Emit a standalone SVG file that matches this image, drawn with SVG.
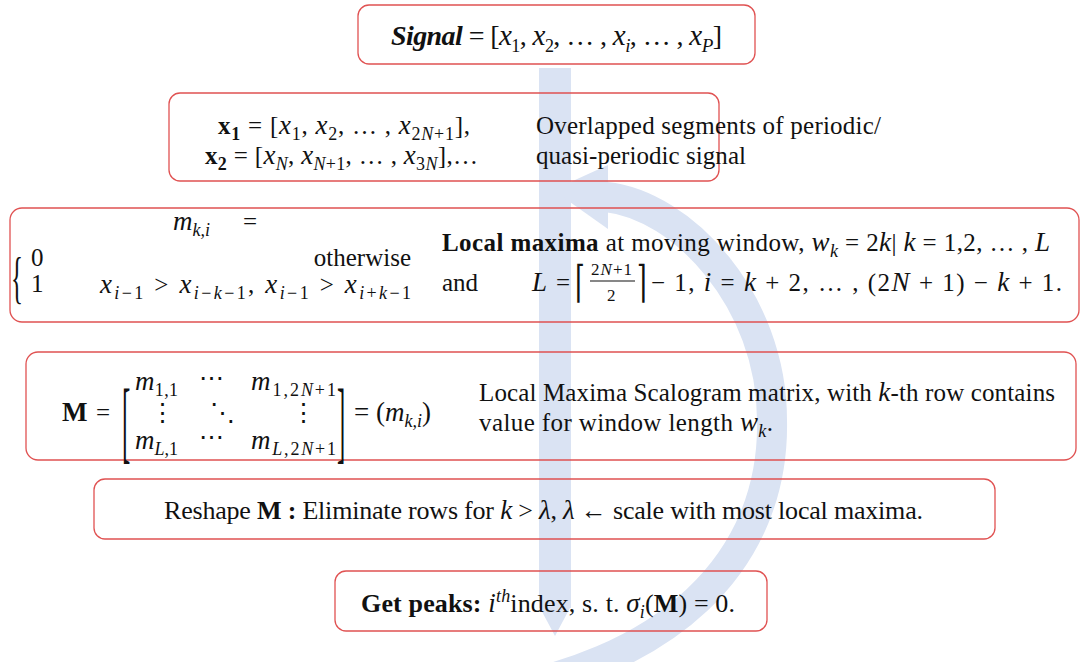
<svg xmlns="http://www.w3.org/2000/svg" width="1081" height="662" viewBox="0 0 1081 662">
<style>
.box{fill:none;stroke:#e05252;stroke-width:1.3}
.t{font-family:"Liberation Serif","DejaVu Serif",serif;font-size:25px;fill:#111}
.m{font-style:italic;font-size:27px}
.b{font-weight:bold}
.sub{font-size:18px}
.sm{font-size:17px}
.arr{fill:#dae3f3}
</style>
<rect width="1081" height="662" fill="#ffffff"/>
<g id="connectors">
<rect class="arr" x="539" y="68" width="32" height="540"/>
<polygon class="arr" points="539,606 571,606 555,636"/>
<path d="M606,197 C682,205 772,300 772,420 C775,560 670,668 470,695" fill="none" stroke="#dae3f3" stroke-width="30"/>
<polygon class="arr" points="553,190 608,165 608,229"/>
</g>
<g id="node-signal">
<rect class="box" x="358" y="5" width="397" height="59" rx="11"/>
<text class="t" x="391" y="45" textLength="331" style="font-size:28px"><tspan class="b" style="font-style:italic;font-size:28px">Signal</tspan><tspan> = [</tspan><tspan class="m" style="font-size:29px">x</tspan><tspan class="sub" dy="7">1</tspan><tspan dy="-7">, </tspan><tspan class="m" style="font-size:29px">x</tspan><tspan class="sub" dy="7">2</tspan><tspan dy="-7">, … , </tspan><tspan class="m" style="font-size:29px">x</tspan><tspan class="sub m" style="font-size:19px" dy="7">i</tspan><tspan dy="-7">, … , </tspan><tspan class="m" style="font-size:29px">x</tspan><tspan class="sub m" style="font-size:19px" dy="7">P</tspan><tspan dy="-7">]</tspan></text>
</g>
<g id="node-segments">
<rect class="box" x="169" y="93" width="550" height="88" rx="11"/>
<text class="t" x="218" y="134" textLength="252"><tspan class="b">x</tspan><tspan class="sub b" dy="6">1</tspan><tspan dy="-6"> = [</tspan><tspan class="m">x</tspan><tspan class="sub" dy="6">1</tspan><tspan dy="-6">, </tspan><tspan class="m">x</tspan><tspan class="sub" dy="6">2</tspan><tspan dy="-6">, … , </tspan><tspan class="m">x</tspan><tspan class="sub" dy="6">2<tspan style="font-style:italic">N</tspan>+1</tspan><tspan dy="-6">],</tspan></text>
<text class="t" x="205" y="164" textLength="273"><tspan class="b">x</tspan><tspan class="sub b" dy="6">2</tspan><tspan dy="-6"> = [</tspan><tspan class="m">x</tspan><tspan class="sub" style="font-style:italic" dy="6">N</tspan><tspan dy="-6">, </tspan><tspan class="m">x</tspan><tspan class="sub" dy="6"><tspan style="font-style:italic">N</tspan>+1</tspan><tspan dy="-6">, … , </tspan><tspan class="m">x</tspan><tspan class="sub" dy="6">3<tspan style="font-style:italic">N</tspan></tspan><tspan dy="-6">],…</tspan></text>
<text class="t" x="536" y="134" textLength="345">Overlapped segments of periodic/</text>
<text class="t" x="536" y="164" textLength="210">quasi-periodic signal</text>
</g>
<g id="node-localmax">
<rect class="box" x="10" y="208" width="1069" height="114" rx="12"/>
<text class="t" x="173" y="230"><tspan class="m">m</tspan><tspan class="sub" style="font-style:italic" dy="6">k,i</tspan></text>
<text class="t" x="243" y="230">=</text>
<text class="t" transform="translate(11,297) scale(1,2.3)">{</text>
<text class="t" x="31" y="266">0</text>
<text class="t" x="411" y="266" text-anchor="end">otherwise</text>
<text class="t" x="31" y="292">1</text>
<text class="t" x="100" y="293" textLength="311"><tspan class="m">x</tspan><tspan class="sub" dy="6"><tspan style="font-style:italic">i</tspan>−1</tspan><tspan dy="-6"> &gt; </tspan><tspan class="m">x</tspan><tspan class="sub" dy="6"><tspan style="font-style:italic">i</tspan>−<tspan style="font-style:italic">k</tspan>−1</tspan><tspan dy="-6">, </tspan><tspan class="m">x</tspan><tspan class="sub" dy="6"><tspan style="font-style:italic">i</tspan>−1</tspan><tspan dy="-6"> &gt; </tspan><tspan class="m">x</tspan><tspan class="sub" dy="6"><tspan style="font-style:italic">i</tspan>+<tspan style="font-style:italic">k</tspan>−1</tspan></text>
<text class="t" x="442" y="251" textLength="608"><tspan class="b">Local maxima</tspan><tspan> at moving window, </tspan><tspan class="m">w</tspan><tspan class="sub" style="font-style:italic" dy="6">k</tspan><tspan dy="-6"> = 2</tspan><tspan class="m">k</tspan><tspan>| </tspan><tspan class="m">k</tspan><tspan> = 1,2, … , </tspan><tspan class="m">L</tspan></text>
<text class="t" x="442" y="291">and</text>
<text class="t" x="532" y="291" textLength="38"><tspan class="m">L</tspan><tspan> =</tspan></text>
<text class="t" transform="translate(575,297) scale(1,1.75)">⌈</text>
<text class="t sm" x="591" y="275" textLength="41">2<tspan style="font-style:italic">N</tspan>+1</text>
<line x1="590" y1="281" x2="635" y2="281" stroke="#111" stroke-width="1.2"/>
<text class="t sm" x="607" y="301">2</text>
<text class="t" transform="translate(637,297) scale(1,1.75)">⌉</text>
<text class="t" x="651" y="291" textLength="411"><tspan>− 1,  </tspan><tspan class="m">i</tspan><tspan> = </tspan><tspan class="m">k</tspan><tspan> + 2, … , (2</tspan><tspan class="m">N</tspan><tspan> + 1) − </tspan><tspan class="m">k</tspan><tspan> + 1.</tspan></text>
</g>
<g id="node-matrix">
<rect class="box" x="26" y="352" width="1050" height="108" rx="12"/>
<text class="t" x="62" y="421" textLength="48"><tspan class="b" style="font-size:27px">M</tspan><tspan> =</tspan></text>
<text class="t" transform="translate(122,452) scale(1,3.6)">[</text>
<text class="t" transform="translate(337,452) scale(1,3.6)">]</text>
<text class="t" x="135" y="390" textLength="43"><tspan class="m">m</tspan><tspan class="sub" dy="6">1,1</tspan></text>
<text class="t" x="199" y="386">⋯</text>
<text class="t" x="251" y="390" textLength="85"><tspan class="m">m</tspan><tspan class="sub" dy="6">1,2<tspan style="font-style:italic">N</tspan>+1</tspan></text>
<text class="t" x="150" y="421">⋮</text>
<text class="t" x="210" y="421">⋱</text>
<text class="t" x="291" y="421">⋮</text>
<text class="t" x="135" y="449" textLength="43"><tspan class="m">m</tspan><tspan class="sub" dy="6"><tspan style="font-style:italic">L</tspan>,1</tspan></text>
<text class="t" x="199" y="445">⋯</text>
<text class="t" x="251" y="449" textLength="85"><tspan class="m">m</tspan><tspan class="sub" dy="6"><tspan style="font-style:italic">L</tspan>,2<tspan style="font-style:italic">N</tspan>+1</tspan></text>
<text class="t" x="354" y="421"><tspan style="font-size:27px">= (</tspan><tspan class="m">m</tspan><tspan class="sub" style="font-style:italic" dy="6">k,i</tspan><tspan dy="-6" style="font-size:27px">)</tspan></text>
<text class="t" x="479" y="401" textLength="576"><tspan>Local Maxima Scalogram matrix, with </tspan><tspan class="m">k</tspan><tspan>-th row contains</tspan></text>
<text class="t" x="479" y="431" textLength="294"><tspan>value for window length </tspan><tspan class="m">w</tspan><tspan class="sub" style="font-style:italic" dy="6">k</tspan><tspan dy="-6">.</tspan></text>
</g>
<g id="node-reshape">
<rect class="box" x="94" y="479" width="901" height="60" rx="11"/>
<text class="t" x="164" y="519" textLength="759" style="font-size:26px"><tspan>Reshape </tspan><tspan class="b">M</tspan><tspan class="b"> : </tspan><tspan>Eliminate rows for </tspan><tspan class="m">k</tspan><tspan> &gt; </tspan><tspan class="m">λ</tspan><tspan>, </tspan><tspan class="m">λ</tspan><tspan> ← scale with most local maxima.</tspan></text>
</g>
<g id="node-peaks">
<rect class="box" x="335" y="571" width="432" height="60" rx="11"/>
<text class="t" x="361" y="612" textLength="374" style="font-size:26px"><tspan class="b">Get peaks: </tspan><tspan class="m">i</tspan><tspan class="sub" style="font-style:italic" dy="-10">th</tspan><tspan dy="10">index, s. t. </tspan><tspan class="m">σ</tspan><tspan class="sub" style="font-style:italic" dy="6">i</tspan><tspan dy="-6">(</tspan><tspan class="b">M</tspan><tspan>) = 0.</tspan></text>
</g>
</svg>
